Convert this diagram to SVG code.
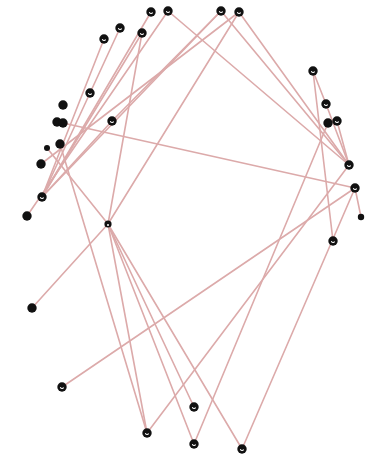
<svg xmlns="http://www.w3.org/2000/svg" width="372" height="464" viewBox="0 0 372 464">
<style>
.e{stroke:#dcaaaa;stroke-width:1.6;fill:none;stroke-linecap:round}
.n{fill:#111}
.h{fill:none;stroke:#fff;stroke-width:1.1}
</style>
<defs>
<g id="nh"><circle class="n" r="4.7"/><path class="h" d="M-1.6,0.2 A1.7,1.7 0 0 0 1.6,0.6"/></g>
<g id="nf"><circle class="n" r="4.7"/></g>
</defs>
<rect width="372" height="464" fill="#fff"/>
<g id="connectors">
<line class="e" x1="42" y1="197" x2="104" y2="39"/>
<line class="e" x1="42" y1="197" x2="120" y2="28"/>
<line class="e" x1="42" y1="197" x2="151" y2="12"/>
<line class="e" x1="27" y1="216" x2="168" y2="11"/>
<line class="e" x1="42" y1="197" x2="142" y2="33"/>
<line class="e" x1="42" y1="197" x2="221" y2="11"/>
<line class="e" x1="42" y1="197" x2="112" y2="121"/>
<line class="e" x1="41" y1="164" x2="239" y2="12"/>
<line class="e" x1="221" y1="11" x2="112" y2="121"/>
<line class="e" x1="239" y1="12" x2="108" y2="224"/>
<line class="e" x1="142" y1="33" x2="108" y2="224"/>
<line class="e" x1="168" y1="11" x2="349" y2="165"/>
<line class="e" x1="221" y1="11" x2="349" y2="165"/>
<line class="e" x1="239" y1="12" x2="349" y2="165"/>
<line class="e" x1="63" y1="123" x2="355" y2="188"/>
<line class="e" x1="313" y1="71" x2="326" y2="104"/>
<line class="e" x1="313" y1="71" x2="333" y2="241"/>
<line class="e" x1="326" y1="104" x2="349" y2="165"/>
<line class="e" x1="337" y1="121" x2="349" y2="165"/>
<line class="e" x1="355" y1="188" x2="361" y2="217"/>
<line class="e" x1="355" y1="188" x2="242" y2="449"/>
<line class="e" x1="355" y1="188" x2="62" y2="387"/>
<line class="e" x1="349" y1="165" x2="147" y2="433"/>
<line class="e" x1="328" y1="123" x2="194" y2="444"/>
<line class="e" x1="32" y1="308" x2="108" y2="224"/>
<line class="e" x1="47" y1="148" x2="108" y2="224"/>
<line class="e" x1="108" y1="224" x2="147" y2="433"/>
<line class="e" x1="108" y1="224" x2="194" y2="407"/>
<line class="e" x1="108" y1="224" x2="194" y2="444"/>
<line class="e" x1="108" y1="224" x2="242" y2="449"/>
<line class="e" x1="60" y1="144" x2="147" y2="433"/>
</g>
<g id="n1"><use href="#nh" x="151" y="12"/></g>
<g id="n2"><use href="#nh" x="168" y="11"/></g>
<g id="n3"><use href="#nh" x="221" y="11"/></g>
<g id="n4"><use href="#nh" x="239" y="12"/></g>
<g id="n5"><use href="#nh" x="120" y="28"/></g>
<g id="n6"><use href="#nh" x="104" y="39"/></g>
<g id="n7"><use href="#nh" x="142" y="33"/></g>
<g id="n8"><use href="#nh" x="90" y="93"/></g>
<g id="n9"><use href="#nf" x="63" y="105"/></g>
<g id="n10"><use href="#nf" x="57" y="122"/></g>
<g id="n11"><use href="#nf" x="63" y="123"/></g>
<g id="n12"><use href="#nh" x="112" y="121"/></g>
<g id="n13"><use href="#nf" x="60" y="144"/></g>
<g id="n14"><circle class="n" cx="47" cy="148" r="3"/></g>
<g id="n15"><use href="#nf" x="41" y="164"/></g>
<g id="n16"><use href="#nh" x="42" y="197"/></g>
<g id="n17"><use href="#nf" x="27" y="216"/></g>
<g id="n18"><circle class="n" cx="108" cy="224" r="3.6"/><circle cx="108" cy="225" r="1" fill="#fff"/></g>
<g id="n19"><use href="#nh" x="313" y="71"/></g>
<g id="n20"><use href="#nh" x="326" y="104"/></g>
<g id="n21"><use href="#nf" x="328" y="123"/></g>
<g id="n22"><use href="#nh" x="337" y="121"/></g>
<g id="n23"><use href="#nh" x="349" y="165"/></g>
<g id="n24"><use href="#nh" x="355" y="188"/></g>
<g id="n25"><circle class="n" cx="361" cy="217" r="3.2"/></g>
<g id="n26"><use href="#nh" x="333" y="241"/></g>
<g id="n27"><use href="#nf" x="32" y="308"/></g>
<g id="n28"><use href="#nh" x="62" y="387"/></g>
<g id="n29"><use href="#nh" x="194" y="407"/></g>
<g id="n30"><use href="#nh" x="147" y="433"/></g>
<g id="n31"><use href="#nh" x="194" y="444"/></g>
<g id="n32"><use href="#nh" x="242" y="449"/></g>
</svg>
